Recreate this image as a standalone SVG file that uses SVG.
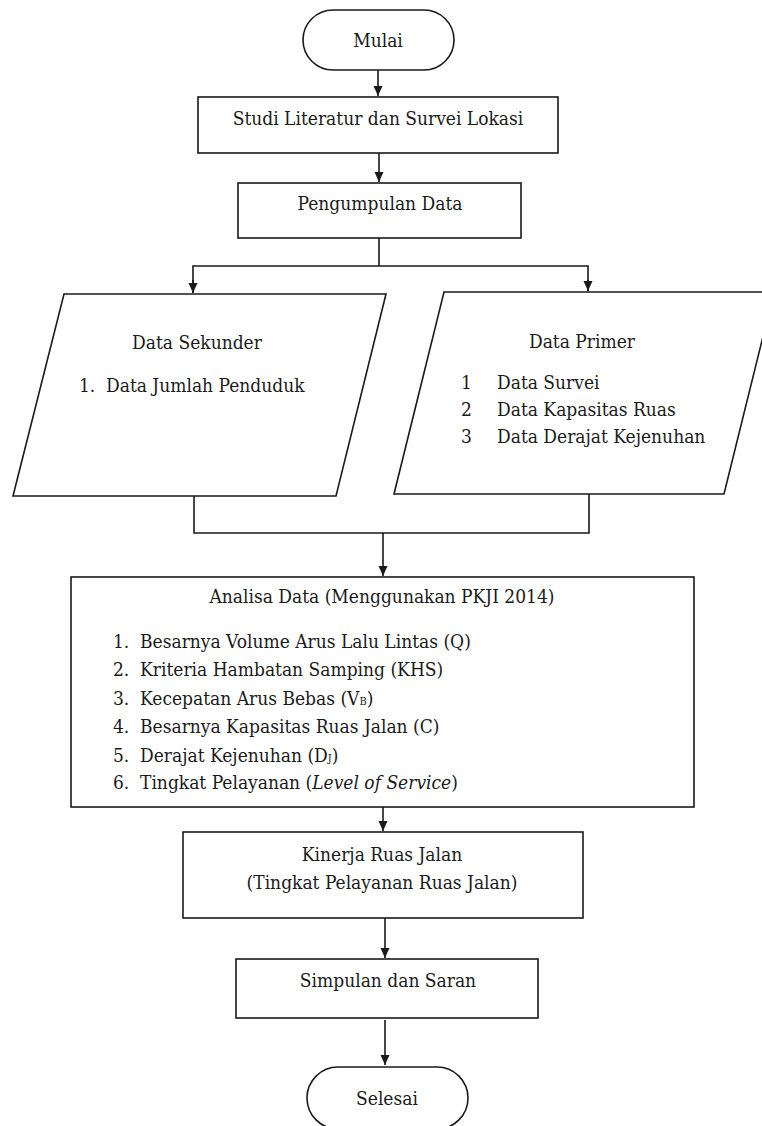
<svg xmlns="http://www.w3.org/2000/svg" width="762" height="1126" viewBox="0 0 762 1126">
<defs>
<style>
.s{fill:#fff;stroke:#1a1a1a;stroke-width:1.6}
.c{fill:none;stroke:#1a1a1a;stroke-width:1.6}
text{font-family:"DejaVu Serif Condensed","DejaVu Serif",serif;font-stretch:condensed;font-size:19px;fill:#1a1a1a}
.m{text-anchor:middle}
.sub{font-size:11px}
</style>
<marker id="ah" markerUnits="userSpaceOnUse" markerWidth="12" markerHeight="12" viewBox="0 0 12 12" refX="10" refY="6" orient="auto">
<path d="M0,1.5 L10,6 L0,10.5 Z" fill="#1a1a1a"/>
</marker>
</defs>
<rect width="762" height="1126" fill="#fff"/>
<g id="connectors">
<line class="c" x1="378" y1="70" x2="378" y2="96" marker-end="url(#ah)"/>
<line class="c" x1="379" y1="153" x2="379" y2="182" marker-end="url(#ah)"/>
<polyline class="c" points="379,238 379,266"/>
<polyline class="c" points="193,293 193,266 588,266 588,291"/>
<line class="c" x1="193" y1="280" x2="193" y2="293" marker-end="url(#ah)"/>
<line class="c" x1="588" y1="280" x2="588" y2="291" marker-end="url(#ah)"/>
<polyline class="c" points="194,496 194,533 589,533 589,494"/>
<line class="c" x1="383" y1="533" x2="383" y2="576" marker-end="url(#ah)"/>
<line class="c" x1="383" y1="807" x2="383" y2="831" marker-end="url(#ah)"/>
<line class="c" x1="385" y1="918" x2="385" y2="958" marker-end="url(#ah)"/>
<line class="c" x1="385" y1="1020" x2="385" y2="1065" marker-end="url(#ah)"/>
</g>
<g id="mulai">
<rect class="s" x="303" y="10" width="151" height="60" rx="30" ry="30"/>
<text class="m" x="378" y="47">Mulai</text>
</g>
<g id="studi">
<rect class="s" x="198" y="97" width="360" height="56"/>
<text class="m" x="378" y="125">Studi Literatur dan Survei Lokasi</text>
</g>
<g id="pengumpulan">
<rect class="s" x="238" y="183" width="283" height="55"/>
<text class="m" x="380" y="210">Pengumpulan Data</text>
</g>
<g id="sekunder">
<polygon class="s" points="64,294 386,294 336,496 13,496"/>
<text class="m" x="197" y="349">Data Sekunder</text>
<text x="79" y="392">1.</text>
<text x="106" y="392">Data Jumlah Penduduk</text>
</g>
<g id="primer">
<polygon class="s" points="444,292 774,292 724,494 394,494"/>
<text class="m" x="582" y="348">Data Primer</text>
<text x="461" y="389">1</text>
<text x="497" y="389">Data Survei</text>
<text x="461" y="416">2</text>
<text x="497" y="416">Data Kapasitas Ruas</text>
<text x="461" y="443">3</text>
<text x="497" y="443">Data Derajat Kejenuhan</text>
</g>
<g id="analisa">
<rect class="s" x="71" y="577" width="623" height="230"/>
<text class="m" x="382" y="603">Analisa Data (Menggunakan PKJI 2014)</text>
<text x="113" y="648">1.</text>
<text x="140" y="648">Besarnya Volume Arus Lalu Lintas (Q)</text>
<text x="113" y="676">2.</text>
<text x="140" y="676">Kriteria Hambatan Samping (KHS)</text>
<text x="113" y="705">3.</text>
<text x="140" y="705">Kecepatan Arus Bebas (V<tspan class="sub">B</tspan>)</text>
<text x="113" y="733">4.</text>
<text x="140" y="733">Besarnya Kapasitas Ruas Jalan (C)</text>
<text x="113" y="762">5.</text>
<text x="140" y="762">Derajat Kejenuhan (D<tspan class="sub">J</tspan>)</text>
<text x="113" y="789">6.</text>
<text x="140" y="789">Tingkat Pelayanan (<tspan font-style="italic">Level of Service</tspan>)</text>
</g>
<g id="kinerja">
<rect class="s" x="183" y="832" width="400" height="86"/>
<text class="m" x="382" y="861">Kinerja Ruas Jalan</text>
<text class="m" x="382" y="889">(Tingkat Pelayanan Ruas Jalan)</text>
</g>
<g id="simpulan">
<rect class="s" x="236" y="959" width="302" height="59"/>
<text class="m" x="388" y="987">Simpulan dan Saran</text>
</g>
<g id="selesai">
<rect class="s" x="307" y="1067" width="161" height="62" rx="31" ry="31"/>
<text class="m" x="387" y="1105">Selesai</text>
</g>
</svg>
